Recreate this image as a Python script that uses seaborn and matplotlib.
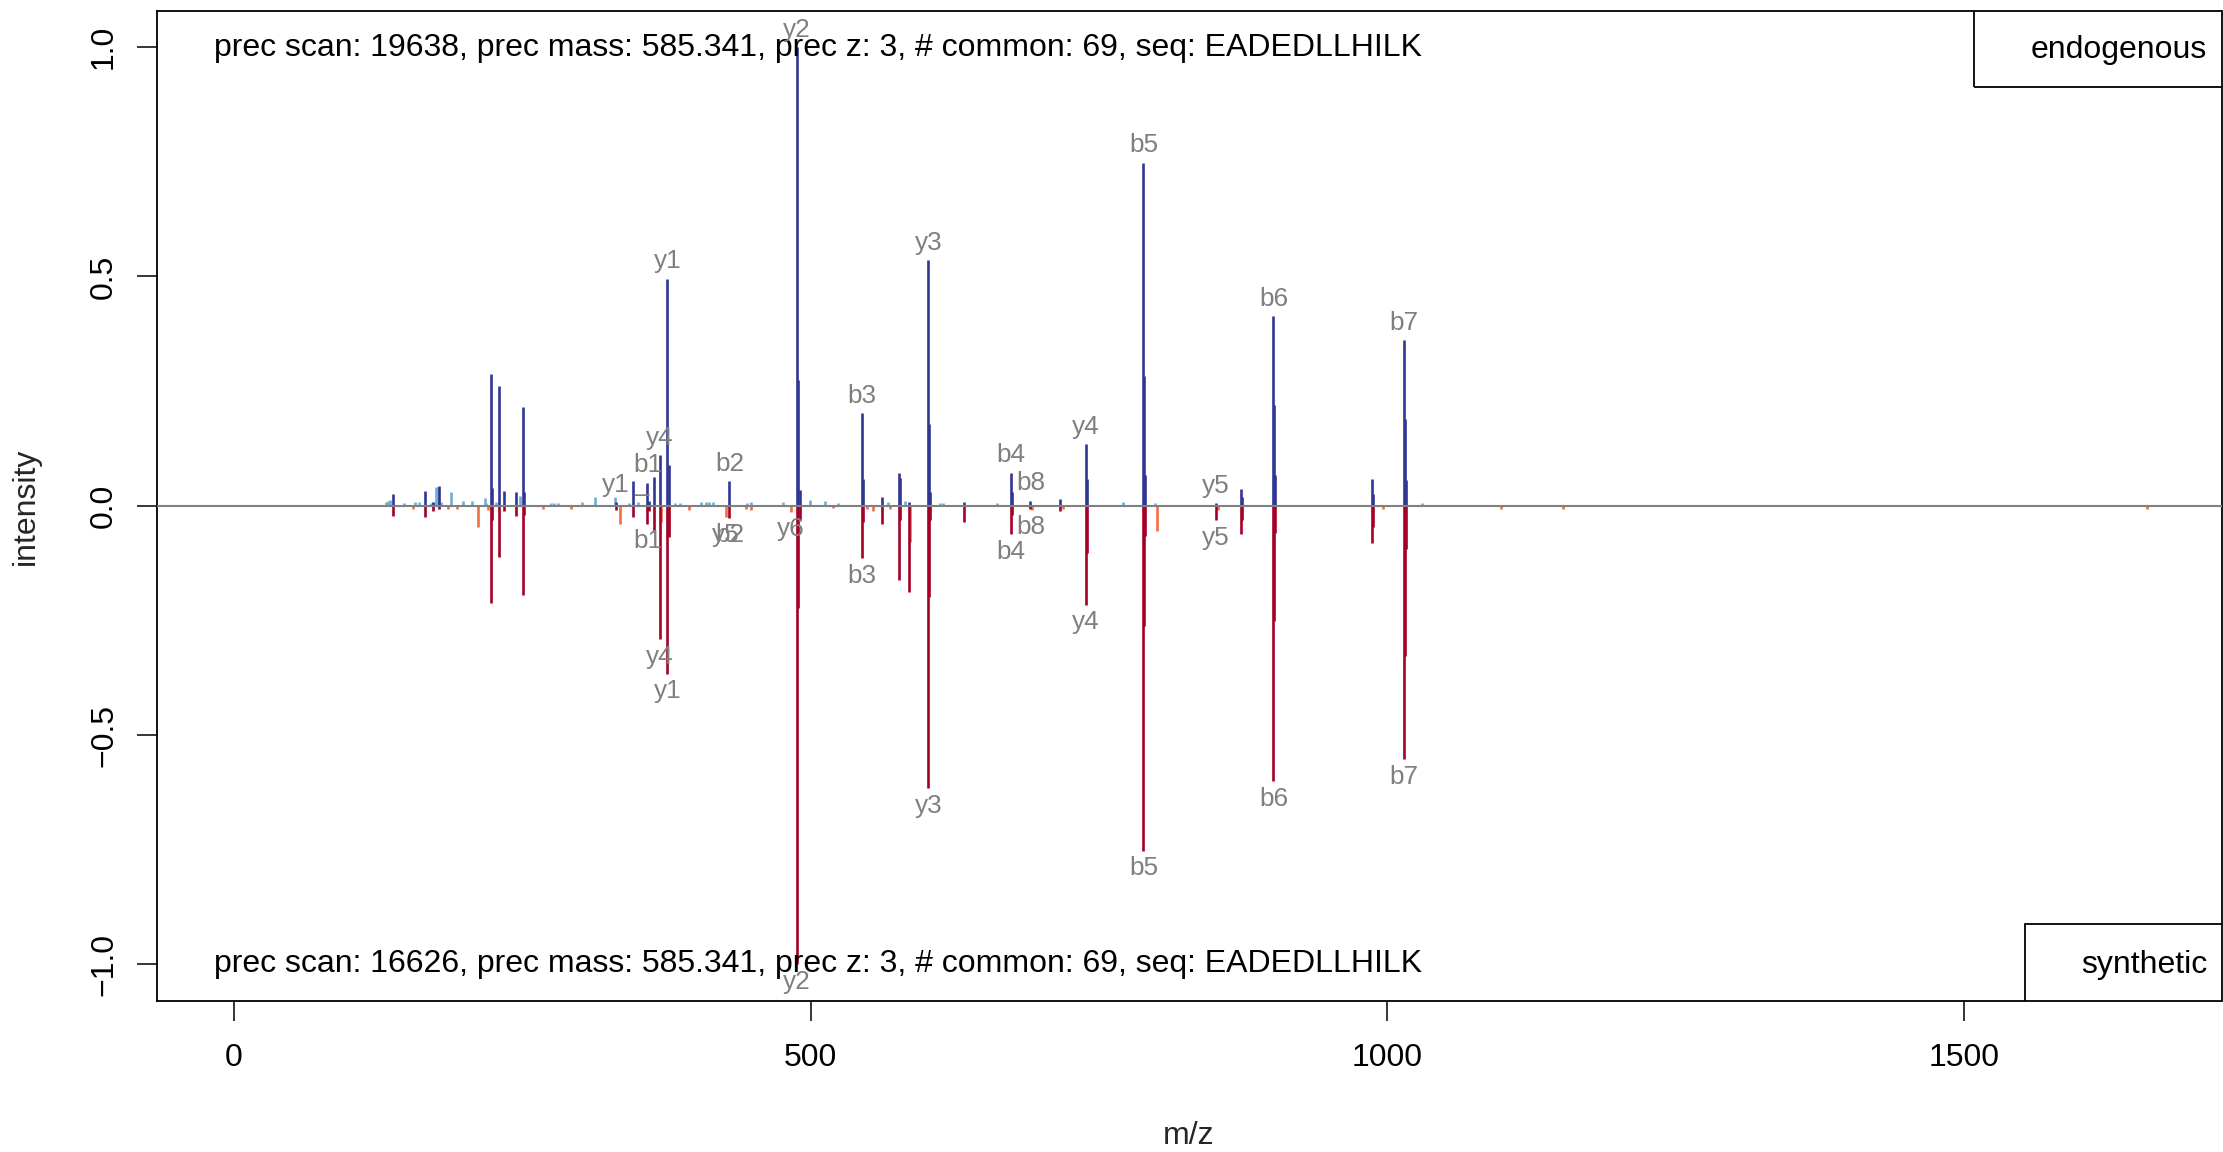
import numpy as np
import pandas as pd
import matplotlib
matplotlib.use("Agg")
import matplotlib.pyplot as plt
from matplotlib.patches import Rectangle
import seaborn as sns

# ---------------- data ----------------
# peaks common to both spectra (m/z, endogenous intensity, synthetic intensity)
mz_common = [137.6, 165.6, 172.8, 177.8, 222.8, 224.0, 229.8, 233.8, 244.5, 250.6,
             251.5, 331.0, 345.7, 358.4, 359.5, 363.8, 369.4, 375.7, 376.7, 429.5,
             487.9, 489.0, 490.3, 544.5, 545.5, 562.2, 576.3, 577.0, 585.0, 602.0,
             602.8, 603.6, 632.7, 673.7, 674.3, 690.5, 716.5, 738.7, 739.5, 788.5,
             789.3, 790.2, 851.5, 873.5, 874.3, 901.2, 901.9, 902.6, 986.4, 987.2,
             1014.5, 1015.3, 1016.1]
int_endo_common = [0.025, 0.032, 0.008, 0.044, 0.288, 0.038, 0.261, 0.033, 0.029, 0.215,
                   0.030, 0.008, 0.054, 0.050, 0.010, 0.062, 0.110, 0.495, 0.088, 0.054,
                   1.000, 0.275, 0.034, 0.202, 0.058, 0.018, 0.072, 0.060, 0.008, 0.535,
                   0.179, 0.030, 0.008, 0.072, 0.030, 0.011, 0.014, 0.134, 0.058, 0.748,
                   0.282, 0.067, 0.005, 0.036, 0.020, 0.413, 0.219, 0.067, 0.058, 0.025,
                   0.361, 0.189, 0.056]
int_syn_common = [0.023, 0.024, 0.012, 0.008, 0.211, 0.030, 0.112, 0.012, 0.023, 0.195,
                  0.020, 0.009, 0.024, 0.039, 0.012, 0.057, 0.291, 0.366, 0.068, 0.026,
                  1.000, 0.224, 0.030, 0.115, 0.035, 0.040, 0.162, 0.030, 0.188, 0.616,
                  0.199, 0.030, 0.035, 0.062, 0.020, 0.008, 0.012, 0.216, 0.104, 0.752,
                  0.262, 0.067, 0.032, 0.061, 0.030, 0.601, 0.252, 0.060, 0.081, 0.046,
                  0.553, 0.328, 0.094]

# endogenous-only peaks
mz_endo_other = [131.5, 133.4, 135.3, 147.4, 157.0, 160.0, 170.5, 172.8, 175.5, 176.6,
                 179.5, 187.9, 198.8, 206.0, 217.6, 218.5, 227.2, 248.0, 275.0, 277.0,
                 281.0, 301.5, 313.0, 330.4, 342.8, 350.6, 382.0, 386.7, 405.0, 409.0,
                 412.0, 415.0, 445.0, 448.0, 476.3, 499.0, 512.4, 524.0, 567.4, 581.8,
                 612.0, 615.0, 661.9, 770.5, 798.6, 1029.8]
int_endo_other = [0.008, 0.010, 0.012, 0.005, 0.008, 0.008, 0.007, 0.008, 0.041, 0.041,
                  0.008, 0.030, 0.010, 0.011, 0.017, 0.007, 0.008, 0.022, 0.006, 0.006,
                  0.006, 0.008, 0.018, 0.020, 0.006, 0.008, 0.006, 0.006, 0.008, 0.008,
                  0.008, 0.008, 0.006, 0.008, 0.008, 0.012, 0.010, 0.006, 0.008, 0.010,
                  0.007, 0.007, 0.006, 0.008, 0.005, 0.006]

# synthetic-only peaks
mz_syn_other = [155.5, 185.8, 193.0, 211.3, 220.0, 268.2, 292.2, 334.7, 370.2, 394.5,
                426.6, 443.7, 448.0, 482.7, 519.7, 549.2, 554.3, 568.8, 585.8, 691.5,
                719.0, 800.0, 853.0, 996.6, 1098.9, 1152.0, 1658.3]
int_syn_other = [0.008, 0.006, 0.006, 0.046, 0.010, 0.008, 0.006, 0.039, 0.035, 0.009,
                 0.025, 0.006, 0.010, 0.013, 0.005, 0.006, 0.012, 0.007, 0.079, 0.010,
                 0.008, 0.055, 0.010, 0.008, 0.006, 0.006, 0.007]

# fragment annotations
endo_label_mz = [331.0, 358.4, 369.4, 375.7, 429.5, 487.9, 544.5, 602.0, 673.7, 690.5,
                 738.7, 788.5, 851.5, 901.2, 1014.5]
endo_label_txt = ["y1", "b1", "y4", "y1", "b2", "y2", "b3", "y3", "b4", "b8",
                  "y4", "b5", "y5", "b6", "b7"]
syn_label_mz = [358.4, 369.4, 375.7, 426.6, 429.5, 482.7, 487.9, 544.5, 602.0, 673.7,
                690.5, 738.7, 788.5, 851.5, 901.2, 1014.5]
syn_label_txt = ["b1", "y4", "y1", "y5", "b2", "y6", "y2", "b3", "y3", "b4",
                 "b8", "y4", "b5", "y5", "b6", "b7"]

header_endo = "prec scan: 19638, prec mass: 585.341, prec z: 3, # common: 69, seq: EADEDLLHILK"
header_syn = "prec scan: 16626, prec mass: 585.341, prec z: 3, # common: 69, seq: EADEDLLHILK"

x_ticks = [0, 500, 1000, 1500]
y_ticks = [-1.0, -0.5, 0.0, 0.5, 1.0]

# ---------------- styling ----------------
sns.set_theme(style="ticks")
plt.rcParams["font.family"] = ["Liberation Sans", "DejaVu Sans"]

C_ENDO = "#313695"
C_ENDO_L = "#74ADD1"
C_SYN = "#A50026"
C_SYN_L = "#F46D43"
C_LAB = "#7F7F7F"

W, H = 2223, 1152
fig = plt.figure(figsize=(W / 100, H / 100), dpi=100)
ax = fig.add_axes([157 / W, 151 / H, 2064.5 / W, 990.5 / H])

common = pd.DataFrame({"mz": mz_common, "endo": int_endo_common, "syn": int_syn_common})
eo = pd.DataFrame({"mz": mz_endo_other, "int": int_endo_other})
so = pd.DataFrame({"mz": mz_syn_other, "int": int_syn_other})

lw = 1.9
ax.vlines(eo["mz"], 0, eo["int"], color=C_ENDO_L, lw=lw, zorder=2)
ax.vlines(so["mz"], 0, -so["int"], color=C_SYN_L, lw=lw, zorder=2)
ax.vlines(common["mz"], 0, common["endo"], color=C_ENDO, lw=lw, zorder=3)
ax.vlines(common["mz"], 0, -common["syn"], color=C_SYN, lw=lw, zorder=3)
ax.axhline(0, color="#808080", lw=1.5, zorder=4)

# lookup of peak heights for labels
endo_all = dict(zip(mz_common, int_endo_common))
endo_all.update(dict(zip(mz_endo_other, int_endo_other)))
syn_all = dict(zip(mz_common, int_syn_common))
syn_all.update(dict(zip(mz_syn_other, int_syn_other)))

LFS = 18.8
for m, t in zip(endo_label_mz, endo_label_txt):
    ax.annotate(t, (m, endo_all[m]), xytext=(0, 12.5), textcoords="offset points",
                ha="center", va="center", color=C_LAB, fontsize=LFS, zorder=6)
for m, t in zip(syn_label_mz, syn_label_txt):
    ax.annotate(t, (m, -syn_all[m]), xytext=(0, -12.5), textcoords="offset points",
                ha="center", va="center", color=C_LAB, fontsize=LFS, zorder=6)
ax.text(354.0, 0.024, "\u2013", ha="center", va="center", color=C_LAB, fontsize=LFS)

ax.set_xlim(-66.8, 1723.2)
ax.set_ylim(-1.08, 1.08)

FS = 23
ax.set_xticks(x_ticks)
ax.set_xticklabels([str(v) for v in x_ticks], fontsize=FS)
ax.set_yticks(y_ticks)
ax.set_yticklabels([f"{v:.1f}".replace("-", "\u2212") for v in y_ticks],
                   fontsize=FS, rotation=90, va="center")
ax.tick_params(axis="both", direction="out", length=14.4, width=1.1, color="black",
               labelcolor="black")
ax.tick_params(axis="x", pad=16)
ax.tick_params(axis="y", pad=13)
for s in ax.spines.values():
    s.set_visible(True)
    s.set_linewidth(1.3)
    s.set_color("black")
ax.grid(False)
ax.set_facecolor("white")

# headers
ax.text(0.0276, 0.962, header_endo, transform=ax.transAxes, ha="left", va="center",
        fontsize=FS, color="black")
ax.text(0.0276, 0.0374, header_syn, transform=ax.transAxes, ha="left", va="center",
        fontsize=FS, color="black")

# legend-like boxes
ax.add_patch(Rectangle((0.880, 0.9225), 0.125, 0.08, transform=ax.transAxes,
                       fill=False, edgecolor="black", lw=1.3, clip_on=True, zorder=7))
ax.text(0.9929, 0.960, "endogenous", transform=ax.transAxes, ha="right", va="center",
        fontsize=FS, color="black", zorder=8)
ax.add_patch(Rectangle((0.9046, -0.01), 0.1, 0.0877, transform=ax.transAxes,
                       fill=False, edgecolor="black", lw=1.3, clip_on=True, zorder=7))
ax.text(0.993, 0.0363, "synthetic", transform=ax.transAxes, ha="right", va="center",
        fontsize=FS, color="black", zorder=8)

fig.text(1189 / W, 1 - 1135.6 / H, "m/z", ha="center", va="center", fontsize=FS)
fig.text(25.5 / W, 1 - 506 / H, "intensity", ha="center", va="center", rotation=90,
         fontsize=FS)

fig.savefig("out.png", dpi=100, facecolor="white")
